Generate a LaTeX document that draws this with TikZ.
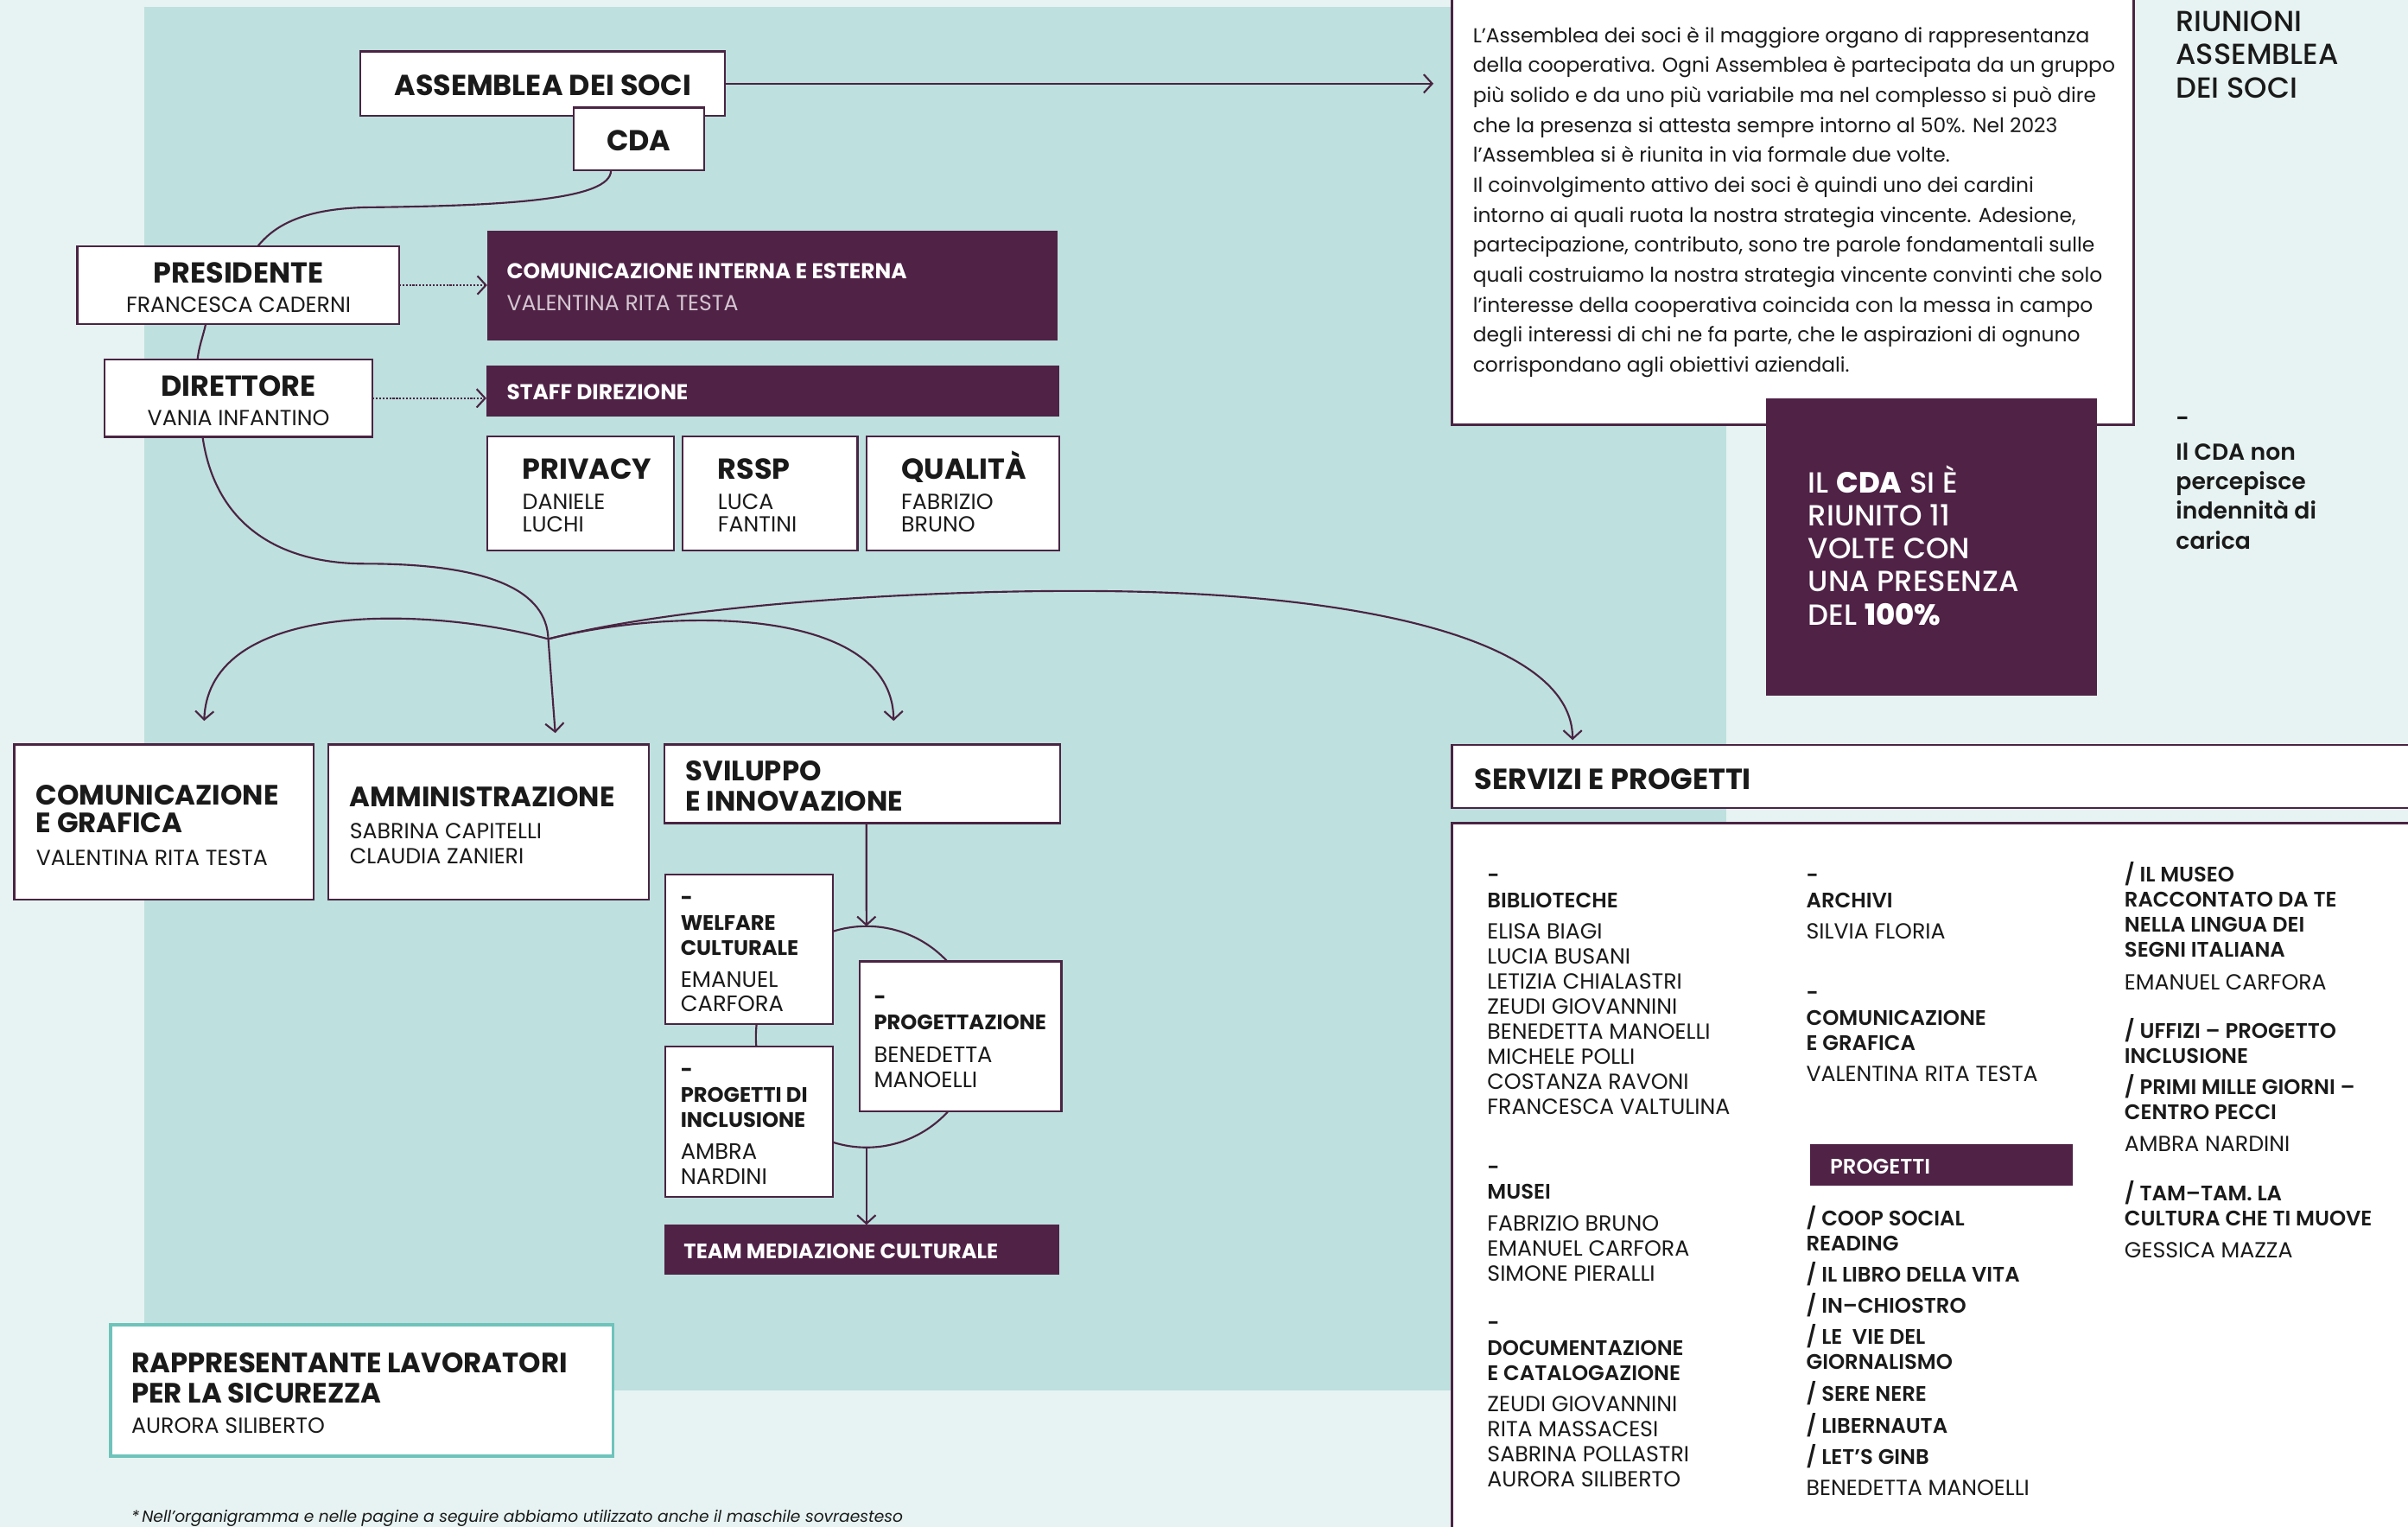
\documentclass[tikz,border=0pt]{standalone}
\usepackage{fontspec}
\setmainfont{Poppins}
\newfontfamily\psemi{Poppins SemiBold}
\newfontfamily\pmed{Poppins Medium}
\usetikzlibrary{arrows.meta,calc}
\definecolor{plum}{HTML}{4F2246}
\definecolor{plumline}{HTML}{4A2443}
\definecolor{bglight}{HTML}{E7F3F2}
\definecolor{tealpanel}{HTML}{BEE0DE}
\definecolor{tealline}{HTML}{6EC3BB}
\definecolor{lilac}{HTML}{D5C6D1}
\definecolor{ink}{HTML}{1A1A1A}
\tikzset{
  wbox/.style={draw=plumline, line width=1.3pt, fill=white, inner sep=0pt, outer sep=0pt, anchor=north west},
  pbox/.style={fill=plum, inner sep=0pt, outer sep=0pt, anchor=north west},
  conn/.style={draw=plumline, line width=1.2pt},
  arr/.style={-{Straight Barb[length=5.5pt,width=12pt]}},
  dots/.style={dash pattern=on 1.2pt off 1pt},
  txt/.style={inner sep=0pt, anchor=base west, align=left, text=ink},
  ctxt/.style={inner sep=0pt, anchor=base, align=center, text=ink},
  hbig/.style={font=\bfseries\fontsize{18.8}{21}\selectfont},
  hmid/.style={font=\bfseries\fontsize{18.2}{18.1}\selectfont},
  hmidb/.style={font=\bfseries\fontsize{18.2}{19.7}\selectfont},
  fname/.style={font=\fontsize{14.2}{14.5}\selectfont},
  fnames/.style={font=\fontsize{14.2}{16.1}\selectfont},
  pbold/.style={font=\bfseries\fontsize{14}{16}\selectfont},
  fsmallb/.style={font=\bfseries\fontsize{13.6}{16.2}\selectfont},
  fsmalln/.style={font=\fontsize{14.5}{16.1}\selectfont},
  fsb/.style={font=\psemi\fontsize{13.7}{16.2}\selectfont},
  fsn/.style={font=\fontsize{14.2}{16.26}\selectfont},
}
\begin{document}
\begin{tikzpicture}[x=1pt,y=-1pt]
\useasboundingbox (0,0) rectangle (1568,994.1);
% backgrounds
\fill[bglight] (0,0) rectangle (1568,994.1);
\fill[tealpanel] (94,4.5) rectangle (1124,905);
% ring behind the small boxes
\node[circle, draw=plumline, line width=1.2pt, minimum size=144pt, inner sep=0pt, outer sep=0pt] (ring) at (564.2,675) {};
% boxes
\node[wbox, minimum width=237.4pt, minimum height=41.9pt] (ass) at (234.6,33.5) {};
\node[wbox, minimum width=85pt, minimum height=41pt] (cda) at (373.6,70) {};
\node[wbox, minimum width=209.4pt, minimum height=50.7pt] (pres) at (50.4,160.3) {};
\node[wbox, minimum width=174.4pt, minimum height=50.3pt] (dir) at (68.1,234.1) {};
\node[pbox, minimum width=371.7pt, minimum height=71.6pt] (cie) at (317.2,150) {};
\node[pbox, minimum width=373.1pt, minimum height=32.9pt] (staff) at (316.7,238.1) {};
\node[wbox, minimum width=121.7pt, minimum height=74.4pt] (priv) at (317.2,284.1) {};
\node[wbox, minimum width=113.8pt, minimum height=74.4pt] (rssp) at (444.5,284.1) {};
\node[wbox, minimum width=125.5pt, minimum height=74.4pt] (qual) at (564.3,284.1) {};
\node[wbox, minimum width=195pt, minimum height=101pt] (com) at (9.3,484.7) {};
\node[wbox, minimum width=209pt, minimum height=101pt] (amm) at (213.6,484.7) {};
\node[wbox, minimum width=257.5pt, minimum height=51.1pt] (svi) at (432.8,484.7) {};
\node[wbox, minimum width=109pt, minimum height=97.3pt] (welf) at (433.3,569.4) {};
\node[wbox, minimum width=109pt, minimum height=97.7pt] (incl) at (433.3,681.5) {};
\node[wbox, minimum width=131.6pt, minimum height=97.7pt] (prog) at (559.6,625.9) {};
\node[pbox, minimum width=257.3pt, minimum height=32.7pt] (team) at (432.5,797.4) {};
\node[wbox, draw=tealline, line width=1.8pt, minimum width=327pt, minimum height=85.5pt] (rls) at (72,862.5) {};
\node[wbox, minimum width=443.9pt, minimum height=281.6pt] (desc) at (945.4,-5) {};
\node[pbox, minimum width=215.5pt, minimum height=193.7pt] (cdabox) at (1149.8,259.3) {};
\node[wbox, minimum width=626.6pt, minimum height=41.1pt] (servh) at (945.4,484.8) {};
\node[wbox, minimum width=626.6pt, minimum height=470pt] (servb) at (945.4,535.8) {};
\node[pbox, minimum width=171.4pt, minimum height=27.3pt] (progetti) at (1178.4,744.7) {};
% texts of the chart (multi-line nodes sit on the baseline of their last line)
\node[ctxt, hbig] (tAss) at (353.5,62.4) {ASSEMBLEA DEI SOCI};
\node[ctxt, hbig] (tCda) at (416,98.3) {CDA};
\node[ctxt, hbig] (tPres) at (155.3,184.5) {PRESIDENTE};
\node[ctxt, fname] (tPresN) at (155.3,203.4) {FRANCESCA CADERNI};
\node[ctxt, hbig] (tDir) at (155.3,257.8) {DIRETTORE};
\node[ctxt, fname] (tDirN) at (155.3,276.9) {VANIA INFANTINO};
\node[txt, pbold, text=white] (tCie) at (329.8,181.5) {COMUNICAZIONE INTERNA E ESTERNA};
\node[txt, fname, text=lilac] (tCieN) at (329.8,202.4) {VALENTINA RITA TESTA};
\node[txt, pbold, text=white] (tStaff) at (329.8,260.1) {STAFF DIREZIONE};
\node[txt, hbig] (tPriv) at (340,311.8) {PRIVACY};
\node[txt, fname] (tPrivN) at (340,346) {DANIELE\\LUCHI};
\node[txt, hbig] (tRssp) at (467.3,311.8) {RSSP};
\node[txt, fname] (tRsspN) at (467.3,346) {LUCA\\FANTINI};
\node[txt, hbig] (tQual) at (586.7,311.8) {QUALITÀ};
\node[txt, fname] (tQualN) at (586.7,346) {FABRIZIO\\BRUNO};
\node[txt, hmid] (tCom) at (23.3,542.2) {COMUNICAZIONE\\E GRAFICA};
\node[txt, fnames] (tComN) at (23.3,563.7) {VALENTINA RITA TESTA};
\node[txt, hmid] (tAmm) at (227.6,525) {AMMINISTRAZIONE};
\node[txt, fnames] (tAmmN) at (227.6,562.1) {SABRINA CAPITELLI\\CLAUDIA ZANIERI};
\node[txt, hmidb] (tSvi) at (446.3,528) {SVILUPPO\\E INNOVAZIONE};
\node[txt, fsmallb] (tWelf) at (443,621.8) {-\\WELFARE\\CULTURALE};
\node[txt, fsmalln] (tWelfN) at (443,658.6) {EMANUEL\\CARFORA};
\node[txt, fsmallb] (tIncl) at (443,733.7) {-\\PROGETTI DI\\INCLUSIONE};
\node[txt, fsmalln] (tInclN) at (443,770.9) {AMBRA\\NARDINI};
\node[txt, fsmallb] (tProg) at (568.9,670.5) {-\\PROGETTAZIONE};
\node[txt, fsmalln] (tProgN) at (568.9,707.9) {BENEDETTA\\MANOELLI};
\node[txt, fsmallb, text=white] (tTeam) at (445.1,819.5) {TEAM MEDIAZIONE CULTURALE};
\node[txt, hmidb] (tRls) at (85.4,913.5) {RAPPRESENTANTE LAVORATORI\\PER LA SICUREZZA};
\node[txt, fnames] (tRlsN) at (85.4,933) {AURORA SILIBERTO};
\node[txt, font=\itshape\fontsize{10.5}{12}\selectfont] (tNote) at (85.4,991.3) {*\,Nell’organigramma e nelle pagine a seguire abbiamo utilizzato anche il maschile sovraesteso};
% description
\node[txt, font=\fontsize{13.15}{19.5}\selectfont] (tDesc) at (958.9,242.1) {L’Assemblea dei soci è il maggiore organo di rappresentanza\\della cooperativa. Ogni Assemblea è partecipata da un gruppo\\più solido e da uno più variabile ma nel complesso si può dire\\che la presenza si attesta sempre intorno al 50\%. Nel 2023\\l’Assemblea si è riunita in via formale due volte.\\Il coinvolgimento attivo dei soci è quindi uno dei cardini\\intorno ai quali ruota la nostra strategia vincente. Adesione,\\partecipazione, contributo, sono tre parole fondamentali sulle\\quali costruiamo la nostra strategia vincente convinti che solo\\l’interesse della cooperativa coincida con la messa in campo\\degli interessi di chi ne fa parte, che le aspirazioni di ognuno\\corrispondano agli obiettivi aziendali.};
\node[txt, font=\pmed\fontsize{19}{21.55}\selectfont, text=white] (tCdaBox) at (1177.2,406.9) {IL \textbf{CDA} SI È\\RIUNITO 11\\VOLTE CON\\UNA PRESENZA\\DEL \textbf{100\%}};
\node[txt, font=\pmed\fontsize{18.9}{21.8}\selectfont] (tRiun) at (1416.7,63.9) {RIUNIONI\\ASSEMBLEA\\DEI SOCI};
\node[txt, font=\psemi\fontsize{15}{19.3}\selectfont] (tCdaNote) at (1416.7,357.3) {-\\[2.5pt]Il CDA non\\percepisce\\indennità di\\carica};
% servizi e progetti
\node[txt, font=\bfseries\fontsize{18.9}{20}\selectfont] (tServ) at (960,513.8) {SERVIZI E PROGETTI};
\node[txt, fsb] (c1a) at (968.3,590.9) {-\\BIBLIOTECHE};
\node[txt, fsn] (c1an) at (968.3,725.3) {ELISA BIAGI\\LUCIA BUSANI\\LETIZIA CHIALASTRI\\ZEUDI GIOVANNINI\\BENEDETTA MANOELLI\\MICHELE POLLI\\COSTANZA RAVONI\\FRANCESCA VALTULINA};
\node[txt, fsb] (c1b) at (968.3,780.8) {-\\MUSEI};
\node[txt, fsn] (c1bn) at (968.3,834) {FABRIZIO BRUNO\\EMANUEL CARFORA\\SIMONE PIERALLI};
\node[txt, fsb] (c1c) at (968.3,898.5) {-\\DOCUMENTAZIONE\\E CATALOGAZIONE};
\node[txt, fsn] (c1cn) at (968.3,967.8) {ZEUDI GIOVANNINI\\RITA MASSACESI\\SABRINA POLLASTRI\\AURORA SILIBERTO};
\node[txt, fsb] (c2a) at (1176,590.9) {-\\ARCHIVI};
\node[txt, fsn] (c2an) at (1176,611.5) {SILVIA FLORIA};
\node[txt, fsb] (c2b) at (1176,683.7) {-\\COMUNICAZIONE\\E GRAFICA};
\node[txt, fsn] (c2bn) at (1176,704.3) {VALENTINA RITA TESTA};
\node[txt, fsb, text=white] (c2p) at (1191.5,764.3) {PROGETTI};
\node[txt, font=\psemi\fontsize{13.7}{16.3}\selectfont] (c2list) at (1176,953.5) {/ COOP SOCIAL\\READING\\[3.8pt]/ IL LIBRO DELLA VITA\\[4.1pt]/ IN–CHIOSTRO\\[4.1pt]/ LE\ \ VIE DEL\\GIORNALISMO\\[4.4pt]/ SERE NERE\\[4.2pt]/ LIBERNAUTA\\[4.4pt]/ LET’S GINB};
\node[txt, fsn] (c2listn) at (1176,973.4) {BENEDETTA MANOELLI};
\node[txt, fsb] (c3a) at (1383.2,622.8) {/ IL MUSEO\\RACCONTATO DA TE\\NELLA LINGUA DEI\\SEGNI ITALIANA};
\node[txt, fsn] (c3an) at (1383.2,644.4) {EMANUEL CARFORA};
\node[txt, fsb] (c3b) at (1383.2,728.8) {/ UFFIZI – PROGETTO\\INCLUSIONE\\[4pt]/ PRIMI MILLE GIORNI –\\CENTRO PECCI};
\node[txt, fsn] (c3bn) at (1383.2,749.7) {AMBRA NARDINI};
\node[txt, fsb] (c3c) at (1383.2,797.8) {/ TAM–TAM. LA\\CULTURA CHE TI MUOVE};
\node[txt, fsn] (c3cn) at (1383.2,818.8) {GESSICA MAZZA};
% connectors
\coordinate (k1) at (238,135);
\coordinate (k2) at (238,367);
\coordinate (J) at (357,416);
\coordinate (k3) at (731,385);
\draw[conn, arr] (ass.east) -- ($(desc.west |- ass.east)+(-12,0)$);
\draw[conn] ($(cda.south west)!0.285!(cda.south east)$) .. controls +(0,19) and +(92,-1) .. (k1) .. controls +(-38,1) and +(12,-15) .. ($(pres.north west)!0.561!(pres.north east)$);
\draw[conn] ($(pres.south west)!0.399!(pres.south east)$) .. controls +(-2,9) and +(1,-9) .. ($(dir.north west)!0.347!(dir.north east)$);
\draw[conn, dots, arr] (pres.east) -- (pres.east -| cie.west);
\draw[conn, dots, arr] (dir.east) -- (dir.east -| staff.west);
\draw[conn, arr] ($(dir.south west)!0.366!(dir.south east)$) .. controls +(8,56) and +(-58,0) .. (k2) .. controls +(82,0) and +(-1,-31) .. (J) -- ($(amm.north west)!0.708!(amm.north east)+(0,-7.5)$);
\draw[conn, arr] (J) .. controls (280,395) and (136,390) .. ($(com.north west)!0.634!(com.north east)+(0,-15.4)$);
\draw[conn, arr] (J) .. controls (440,395) and (581,395) .. ($(svi.north west)!0.579!(svi.north east)+(0,-15.4)$);
\draw[conn, arr] (J) .. controls (450,392) and (620,383) .. (k3) .. controls (900,388) and (1024,420) .. ($(servh.north west)+(78.6,-3)$);
\draw[conn, arr] ($(svi.south west)!0.51!(svi.south east)$) -- (ring.north);
\draw[conn, arr] (ring.south) -- (team.north -| ring.south);
\end{tikzpicture}
\end{document}
